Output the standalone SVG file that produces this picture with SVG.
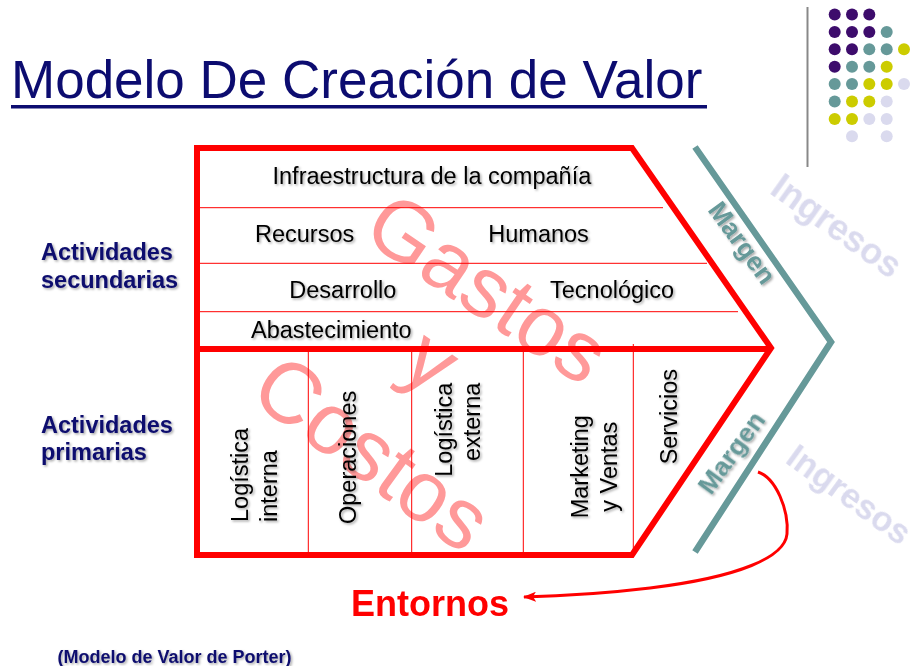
<svg xmlns="http://www.w3.org/2000/svg" width="920" height="666" viewBox="0 0 920 666">
<defs>
<style>
text{font-family:"Liberation Sans",Arial,"DejaVu Sans",sans-serif}
.t{font-size:23.5px;fill:#000}
.lab{font-size:23.5px;font-weight:bold;fill:#0C0C6E}
.wm{font-size:86px;fill:#FF9999}
.ing{font-size:36px;font-weight:bold;fill:#DADAEE}
.mar{font-size:26.5px;font-weight:bold;fill:#669999}
.thin{stroke:#FF0000;stroke-width:1;fill:none}
.thick{stroke:#FF0000;stroke-width:6;fill:none;stroke-linejoin:miter}
.P{fill:#3D0C6C}.T{fill:#669999}.Y{fill:#CCCC00}.L{fill:#DADAEE}
</style>
<filter id="sh" x="-20%" y="-20%" width="140%" height="140%">
<feDropShadow dx="1.5" dy="1.5" stdDeviation="1" flood-color="#000" flood-opacity="0.35"/>
</filter>
<marker id="arr" markerUnits="userSpaceOnUse" viewBox="0 0 13 10" refX="12" refY="5" markerWidth="13" markerHeight="10" orient="auto">
<path d="M0,0 L13,5 L0,10 L3,5 z" fill="#FF0000"/>
</marker>
</defs>
<rect width="920" height="666" fill="#FFFFFF"/>

<g id="title">
<text x="11" y="98" style="font-size:53px;fill:#0C0C70">Modelo De Creación de Valor</text>
<rect x="11" y="105" width="696" height="3.5" fill="#0C0C70"/>
</g>

<g id="dots">
<line x1="807.5" y1="7" x2="807.5" y2="167" stroke="#888888" stroke-width="2"/>
<circle class="P" cx="834.7" cy="14.5" r="6"/><circle class="P" cx="852" cy="14.5" r="6"/><circle class="P" cx="869.3" cy="14.5" r="6"/>
<circle class="P" cx="834.7" cy="31.9" r="6"/><circle class="P" cx="852" cy="31.9" r="6"/><circle class="P" cx="869.3" cy="31.9" r="6"/><circle class="T" cx="886.7" cy="31.9" r="6"/>
<circle class="P" cx="834.7" cy="49.3" r="6"/><circle class="P" cx="852" cy="49.3" r="6"/><circle class="T" cx="869.3" cy="49.3" r="6"/><circle class="T" cx="886.7" cy="49.3" r="6"/><circle class="Y" cx="904" cy="49.3" r="6"/>
<circle class="P" cx="834.7" cy="66.7" r="6"/><circle class="T" cx="852" cy="66.7" r="6"/><circle class="T" cx="869.3" cy="66.7" r="6"/><circle class="Y" cx="886.7" cy="66.7" r="6"/>
<circle class="T" cx="834.7" cy="84.1" r="6"/><circle class="T" cx="852" cy="84.1" r="6"/><circle class="Y" cx="869.3" cy="84.1" r="6"/><circle class="Y" cx="886.7" cy="84.1" r="6"/><circle class="L" cx="904" cy="84.1" r="6"/>
<circle class="T" cx="834.7" cy="101.5" r="6"/><circle class="Y" cx="852" cy="101.5" r="6"/><circle class="Y" cx="869.3" cy="101.5" r="6"/><circle class="L" cx="886.7" cy="101.5" r="6"/>
<circle class="Y" cx="834.7" cy="118.9" r="6"/><circle class="Y" cx="852" cy="118.9" r="6"/><circle class="L" cx="869.3" cy="118.9" r="6"/><circle class="L" cx="886.7" cy="118.9" r="6"/>
<circle class="L" cx="852" cy="136.3" r="6"/><circle class="L" cx="886.7" cy="136.3" r="6"/>
</g>

<g id="labels" filter="url(#sh)">
<text class="lab" x="41" y="260">Actividades</text>
<text class="lab" x="41" y="288">secundarias</text>
<text class="lab" x="41" y="433">Actividades</text>
<text class="lab" x="41" y="460">primarias</text>
</g>

<g id="watermark">
<text class="wm" transform="translate(360,237) rotate(34)" style="font-size:85px">Gastos</text>
<text class="wm" transform="translate(415,384) rotate(35)" text-anchor="middle">y</text>
<text class="wm" transform="translate(247,398) rotate(36)">Costos</text>
</g>

<g id="cadena">
<line class="thin" x1="199" y1="207.7" x2="663" y2="207.7"/>
<line class="thin" x1="199" y1="263.3" x2="707" y2="263.3"/>
<line class="thin" x1="199" y1="311.7" x2="738" y2="311.7"/>
<line class="thin" x1="308.3" y1="349" x2="308.3" y2="554"/>
<line class="thin" x1="411.7" y1="349" x2="411.7" y2="554"/>
<line class="thin" x1="523.3" y1="349" x2="523.3" y2="554"/>
<line class="thin" x1="633.3" y1="344" x2="633.3" y2="554"/>
<polygon class="thick" points="197,148 632,148 771,348 632,555 197,555"/>
<line class="thick" x1="197" y1="349" x2="771" y2="349"/>
</g>

<g id="secundarias" filter="url(#sh)">
<text class="t" x="272.5" y="183.5">Infraestructura de la compañía</text>
<text class="t" x="255" y="241.7">Recursos</text>
<text class="t" x="488.3" y="241.7">Humanos</text>
<text class="t" x="289.3" y="298.3">Desarrollo</text>
<text class="t" x="550" y="298.3">Tecnológico</text>
<text class="t" x="251" y="338.3">Abastecimiento</text>
</g>

<g id="primarias" filter="url(#sh)">
<text class="t" transform="translate(248,522) rotate(-90)">Logística</text>
<text class="t" transform="translate(277,522) rotate(-90)">interna</text>
<text class="t" transform="translate(355.5,524) rotate(-90)">Operaciones</text>
<text class="t" transform="translate(451.5,382.7) rotate(-90)" text-anchor="end">Logística</text>
<text class="t" transform="translate(480,382.7) rotate(-90)" text-anchor="end">externa</text>
<text class="t" transform="translate(588,466.7) rotate(-90)" text-anchor="middle">Marketing</text>
<text class="t" transform="translate(616.5,466.7) rotate(-90)" text-anchor="middle">y Ventas</text>
<text class="t" transform="translate(676.5,416.7) rotate(-90)" text-anchor="middle">Servicios</text>
</g>

<g id="margen">
<polyline points="695,147 831,342 695,552" fill="none" stroke="#669999" stroke-width="6.5" stroke-linejoin="miter"/>
<g filter="url(#sh)">
<text class="mar" transform="translate(707,210) rotate(54)">Margen</text>
<text class="mar" transform="translate(711,496) rotate(-54)">Margen</text>
</g>
</g>

<g id="ingresos">
<text class="ing" transform="translate(768.4,192.7) rotate(35.5)">Ingresos</text>
<text class="ing" transform="translate(784,462) rotate(36)" style="font-size:34.5px">Ingresos</text>
</g>

<g id="connectors">
<path d="M758,472 C776,478 789,510 787,534 C785,557 740,577 650,588 C600,594 565,596 524,597" fill="none" stroke="#FF0000" stroke-width="3" marker-end="url(#arr)"/>
</g>

<g id="entornos">
<text x="351" y="616" style="font-size:36px;font-weight:bold;fill:#FF0000">Entornos</text>
</g>

<g id="fuente" filter="url(#sh)">
<text x="57.5" y="662.5" style="font-size:18px;font-weight:bold;fill:#0C0C6E">(Modelo de Valor de Porter)</text>
</g>
</svg>
